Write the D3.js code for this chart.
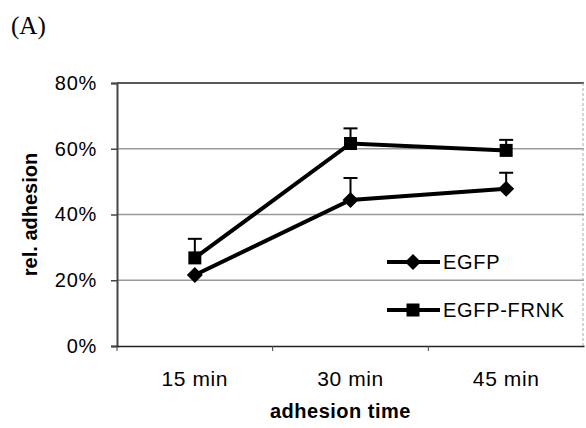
<!DOCTYPE html>
<html>
<head>
<meta charset="utf-8">
<script src="https://cdn.jsdelivr.net/npm/d3@7"></script>
<style>
  body { margin: 0; background: #fff; }
  svg text { font-family: "Liberation Sans", Arial, sans-serif; fill: #000; }
</style>
</head>
<body>
<div id="chart"></div>
<script>
const width = 586;
const height = 428;

const categories = ["15 min", "30 min", "45 min"];
const yTicks = [0, 0.2, 0.4, 0.6, 0.8];
const egfp = [0.216, 0.444, 0.478];
const egfpErr = [0.0, 0.067, 0.049];
const frnk = [0.268, 0.616, 0.595];
const frnkErr = [0.058, 0.046, 0.032];

const margin = { left: 117, right: 2, top: 83, bottom: 82 };

const svg = d3.select("#chart")
  .append("svg")
  .attr("width", width)
  .attr("height", height);

const x = d3.scaleBand()
  .domain(categories)
  .range([margin.left, width - margin.right]);

const y = d3.scaleLinear()
  .domain([0, 0.8])
  .range([height - margin.bottom, margin.top]);

// marker shapes
const diamond = "M0,-8L8,0L0,8L-8,0Z";
const square = "M-6.5,-6.5H6.5V6.5H-6.5Z";

// panel label
svg.append("text")
  .attr("x", 11)
  .attr("y", 34)
  .style("font-family", "'Liberation Serif', 'Times New Roman', serif")
  .style("font-size", "25px")
  .text("(A)");

// gridlines
svg.append("g")
  .selectAll("line")
  .data([0.2, 0.4, 0.6])
  .enter()
  .append("line")
  .attr("x1", margin.left)
  .attr("x2", width - margin.right)
  .attr("y1", d => y(d))
  .attr("y2", d => y(d))
  .attr("stroke", "#9a9a9a")
  .attr("stroke-width", 1.5);

// plot border top + right
svg.append("line")
  .attr("x1", margin.left).attr("x2", width - margin.right)
  .attr("y1", y(0.8)).attr("y2", y(0.8))
  .attr("stroke", "#222").attr("stroke-width", 1.5);
svg.append("line")
  .attr("x1", width - margin.right - 1).attr("x2", width - margin.right - 1)
  .attr("y1", y(0.8)).attr("y2", y(0))
  .attr("stroke", "#aaa").attr("stroke-width", 1)
  .attr("stroke-dasharray", "3,2");

// y axis
const yAxis = svg.append("g")
  .attr("transform", `translate(${margin.left},0)`)
  .call(d3.axisLeft(y).tickValues(yTicks).tickFormat(d3.format(".0%")).tickSize(6).tickPadding(14));
yAxis.select(".domain").attr("stroke", "#444").attr("stroke-width", 2);
yAxis.selectAll(".tick line").attr("stroke", "#444").attr("stroke-width", 1.5);
yAxis.selectAll(".tick text")
  .style("font-size", "20px")
  .style("letter-spacing", "0.7px")
  .attr("fill", "#000");

// x axis
const xAxis = svg.append("g")
  .attr("transform", `translate(0,${y(0)})`)
  .call(d3.axisBottom(x).tickSize(0).tickPadding(25));
xAxis.select(".domain").attr("stroke", "#222").attr("stroke-width", 1.5);
xAxis.selectAll(".tick text")
  .style("font-size", "21px")
  .style("letter-spacing", "0.6px")
  .attr("fill", "#000");

// category boundary ticks
svg.append("g")
  .selectAll("line")
  .data(categories)
  .enter()
  .append("line")
  .attr("x1", d => x(d))
  .attr("x2", d => x(d))
  .attr("y1", y(0))
  .attr("y2", y(0) + 5)
  .attr("stroke", "#444")
  .attr("stroke-width", 1);

// axis titles
svg.append("text")
  .attr("transform", `translate(37,${(y(0) + y(0.8)) / 2}) rotate(-90)`)
  .attr("text-anchor", "middle")
  .style("font-size", "20px")
  .style("font-weight", "bold")
  .text("rel. adhesion");

svg.append("text")
  .attr("x", x("30 min") + x.bandwidth() / 2 - 10)
  .attr("y", 418)
  .attr("text-anchor", "middle")
  .style("font-size", "20px")
  .style("font-weight", "bold")
  .style("letter-spacing", "0.5px")
  .text("adhesion time");

const cx = d => x(d) + x.bandwidth() / 2;

function drawSeries(vals, errs, shape) {
  const g = svg.append("g");
  // error bars (upper only)
  vals.forEach((v, i) => {
    if (errs[i] <= 0) return;
    const px = cx(categories[i]);
    g.append("line")
      .attr("x1", px).attr("x2", px)
      .attr("y1", y(v)).attr("y2", y(v + errs[i]))
      .attr("stroke", "#000").attr("stroke-width", 2);
    g.append("line")
      .attr("x1", px - 7).attr("x2", px + 7)
      .attr("y1", y(v + errs[i])).attr("y2", y(v + errs[i]))
      .attr("stroke", "#000").attr("stroke-width", 2);
  });
  const line = d3.line()
    .x((d, i) => cx(categories[i]))
    .y(d => y(d));
  g.append("path")
    .datum(vals)
    .attr("d", line)
    .attr("fill", "none")
    .attr("stroke", "#000")
    .attr("stroke-width", 4);
  g.selectAll("path.mark")
    .data(vals)
    .enter()
    .append("path")
    .attr("class", "mark")
    .attr("d", shape)
    .attr("transform", (d, i) => `translate(${cx(categories[i])},${y(d)})`)
    .attr("fill", "#000");
}

drawSeries(egfp, egfpErr, diamond);
drawSeries(frnk, frnkErr, square);

// legend
const legend = [
  { name: "EGFP", shape: diamond, y: 262 },
  { name: "EGFP-FRNK", shape: square, y: 310 }
];
const lg = svg.append("g");
legend.forEach(l => {
  lg.append("line")
    .attr("x1", 387).attr("x2", 440)
    .attr("y1", l.y).attr("y2", l.y)
    .attr("stroke", "#000").attr("stroke-width", 4);
  lg.append("path")
    .attr("d", l.shape)
    .attr("transform", `translate(413,${l.y})`)
    .attr("fill", "#000");
  lg.append("text")
    .attr("x", 443)
    .attr("y", l.y + 7)
    .style("font-size", "20px")
    .style("letter-spacing", "0.7px")
    .text(l.name);
});
</script>
</body>
</html>
